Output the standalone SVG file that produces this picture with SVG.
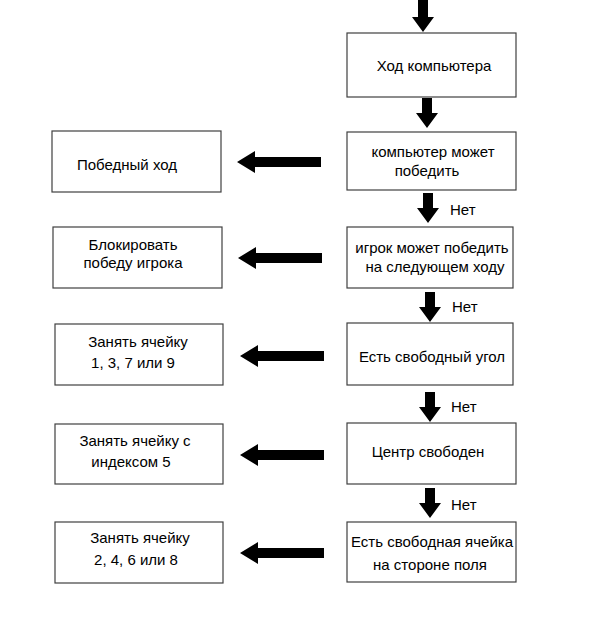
<svg xmlns="http://www.w3.org/2000/svg" width="593" height="617" viewBox="0 0 593 617">
<style>
.box{fill:#fff;stroke:#404040;stroke-width:1.2}
text{font-family:"Liberation Sans","Noto Sans",Arial,sans-serif;font-size:15px;fill:#000;text-anchor:middle}
.lbl{text-anchor:start}
.arr{fill:#000}
</style>
<defs>
<polygon id="down" points="-5,-30 5,-30 5,-15 11,-15 0,0 -11,-15 -5,-15"/>
<polygon id="left" points="0,0 18,-11 18,-5 84,-5 84,5 18,5 18,11"/>
</defs>
<rect width="593" height="617" fill="#fff"/>
<g id="connectors" class="arr">
<polygon points="418,0 428,0 428,17 434,17 423,32 412,17 418,17"/>
<use href="#down" x="427" y="128"/>
<use href="#down" x="428" y="223"/>
<use href="#down" x="430" y="322"/>
<use href="#down" x="430" y="422"/>
<use href="#down" x="430" y="518"/>
<use href="#left" x="237" y="162"/>
<use href="#left" x="238" y="258"/>
<use href="#left" x="240" y="356"/>
<use href="#left" x="240" y="455"/>
<use href="#left" x="240" y="553"/>
<text class="lbl" x="450" y="215">Нет</text>
<text class="lbl" x="452" y="312">Нет</text>
<text class="lbl" x="451" y="412">Нет</text>
<text class="lbl" x="451" y="510">Нет</text>
</g>
<g id="n1"><rect class="box" x="347" y="33" width="169" height="64"/><text x="434" y="71">Ход компьютера</text></g>
<g id="n2"><rect class="box" x="347" y="132" width="169" height="58"/><text x="433" y="157">компьютер может</text><text x="427" y="176">победить</text></g>
<g id="n3"><rect class="box" x="347" y="227" width="166" height="61"/><text x="432" y="253">игрок может победить</text><text x="435" y="272">на следующем ходу</text></g>
<g id="n4"><rect class="box" x="347" y="323" width="166" height="62"/><text x="432" y="362">Есть свободный угол</text></g>
<g id="n5"><rect class="box" x="347" y="423" width="169" height="61"/><text x="428" y="457">Центр свободен</text></g>
<g id="n6"><rect class="box" x="347" y="522" width="169" height="60"/><text x="432" y="547">Есть свободная ячейка</text><text x="430" y="570">на стороне поля</text></g>
<g id="l1"><rect class="box" x="52" y="131" width="169" height="61"/><text x="127" y="170">Победный ход</text></g>
<g id="l2"><rect class="box" x="53" y="227" width="169" height="61"/><text x="133" y="250">Блокировать</text><text x="133" y="268">победу игрока</text></g>
<g id="l3"><rect class="box" x="55" y="324" width="168" height="61"/><text x="138" y="347">Занять ячейку</text><text x="133" y="368">1, 3, 7 или 9</text></g>
<g id="l4"><rect class="box" x="55" y="424" width="168" height="60"/><text x="135" y="446">Занять ячейку с</text><text x="131" y="467">индексом 5</text></g>
<g id="l5"><rect class="box" x="55" y="522" width="168" height="61"/><text x="140" y="543">Занять ячейку</text><text x="136" y="565">2, 4, 6 или 8</text></g>
</svg>
